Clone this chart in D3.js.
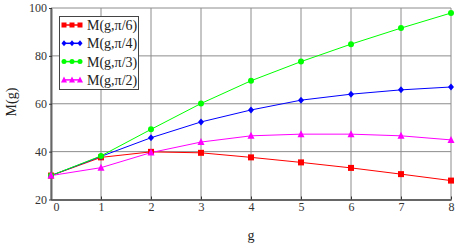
<!DOCTYPE html>
<html><head><meta charset="utf-8">
<script src="https://cdn.jsdelivr.net/npm/d3@7"></script>
<style>body{margin:0;background:#fff}svg{display:block}
text{font-family:"Liberation Serif","Times New Roman","DejaVu Serif",serif}</style>
</head><body><svg id="c" width="465" height="248"></svg>
<script>
const gValues = [0,1,2,3,4,5,6,7,8];
const seriesNames = ["M(g,\u03c0/6)","M(g,\u03c0/4)","M(g,\u03c0/3)","M(g,\u03c0/2)"];
const m6 = [30,37.6,39.9,39.5,37.6,35.5,33.2,30.6,27.9];
const m4 = [30,38.0,45.8,52.4,57.4,61.5,64.0,65.8,67.0];
const m3 = [30,38.2,49.3,60.1,69.6,77.6,84.9,91.6,97.9];
const m2 = [30,33.3,39.6,44.0,46.6,47.3,47.3,46.6,44.9];
const colors = ["#ff0000","#0000ff","#00ff00","#ff00ff"];
const markers = ["square","diamond","circle","triangle"];
const xTicks = [0,1,2,3,4,5,6,7,8];
const yTicks = [20,40,60,80,100];

const svg = d3.select("#c");
const x = d3.scaleLinear().domain([0,8]).range([51,451]);
const y = d3.scaleLinear().domain([20,100]).range([199.5,8]);

// grid
svg.append("g").selectAll("line").data(xTicks).join("line")
  .attr("x1",d=>x(d)).attr("x2",d=>x(d)).attr("y1",y(20)).attr("y2",y(100))
  .attr("stroke","#8c8c8c").attr("stroke-width",1);
svg.append("g").selectAll("line").data(yTicks).join("line")
  .attr("x1",x(0)).attr("x2",x(8)).attr("y1",d=>y(d)).attr("y2",d=>y(d))
  .attr("stroke","#8c8c8c").attr("stroke-width",1);

// axes
const xa = svg.append("g").attr("transform",`translate(0,${y(20)})`)
  .call(d3.axisBottom(x).tickValues(xTicks).tickSize(3).tickSizeOuter(0).tickFormat(d3.format("d")));
const ya = svg.append("g").attr("transform",`translate(${x(0)},0)`)
  .call(d3.axisLeft(y).tickValues(yTicks).tickSize(3).tickSizeOuter(0).tickPadding(1));
[xa,ya].forEach(a=>{
  a.attr("font-family",null);
  a.select(".domain").attr("stroke","#666").attr("stroke-width",2);
  a.selectAll(".tick line").attr("stroke","#333");
  a.selectAll("text").attr("font-size",12).attr("fill","#333");
});
xa.selectAll(".tick line").attr("transform","translate(0,-3)");
xa.selectAll(".tick text").attr("dy","0.9em").attr("y",1);
xa.selectAll(".tick").filter(d=>d===0).select("text").attr("x",5);
ya.selectAll(".tick line").attr("transform","translate(1,0)");

const data = [m6,m4,m3,m2];
const line = d3.line().x((d,i)=>x(gValues[i])).y(d=>y(d));

function drawMarker(sel, type, color, cx, cy, s){
  if(type==="square") sel.append("rect").attr("x",cx-s).attr("y",cy-s).attr("width",2*s).attr("height",2*s).attr("fill",color);
  else if(type==="diamond") sel.append("path").attr("d",`M${cx},${cy-s-0.5}L${cx+s},${cy}L${cx},${cy+s+0.5}L${cx-s},${cy}Z`).attr("fill",color);
  else if(type==="circle") sel.append("circle").attr("cx",cx).attr("cy",cy).attr("r",s).attr("fill",color);
  else sel.append("path").attr("d",`M${cx},${cy-s-1}L${cx+s+0.5},${cy+s}L${cx-s-0.5},${cy+s}Z`).attr("fill",color);
}

data.forEach((s,k)=>{
  svg.append("path").datum(s).attr("d",line).attr("fill","none").attr("stroke",colors[k]).attr("stroke-width",1);
});
data.forEach((s,k)=>{
  const g = svg.append("g");
  s.forEach((v,i)=>drawMarker(g,markers[k],colors[k],x(gValues[i]),y(v),3));
});

// legend
const lg = svg.append("g");
lg.append("rect").attr("x",59.5).attr("y",16.5).attr("width",79).attr("height",73)
  .attr("fill","#fff").attr("stroke","#444").attr("stroke-width",1);
seriesNames.forEach((n,k)=>{
  const cy = 25 + k*18.3;
  lg.append("line").attr("x1",63).attr("x2",81).attr("y1",cy).attr("y2",cy).attr("stroke",colors[k]).attr("stroke-width",1.5);
  [64,72,80].forEach(cx=>drawMarker(lg,markers[k],colors[k],cx,cy,2.5));
  lg.append("text").attr("x",87).attr("y",cy).attr("dy","0.35em")
    .attr("font-size",14).attr("fill","#222").text(n);
});

// axis titles
svg.append("text").attr("transform","translate(16,102) rotate(-90)").attr("text-anchor","middle")
  .attr("font-size",14).attr("fill","#222").text("M(g)");
svg.append("text").attr("x",251).attr("y",240).attr("text-anchor","middle")
  .attr("font-size",14).attr("fill","#222").text("g");
</script></body></html>
